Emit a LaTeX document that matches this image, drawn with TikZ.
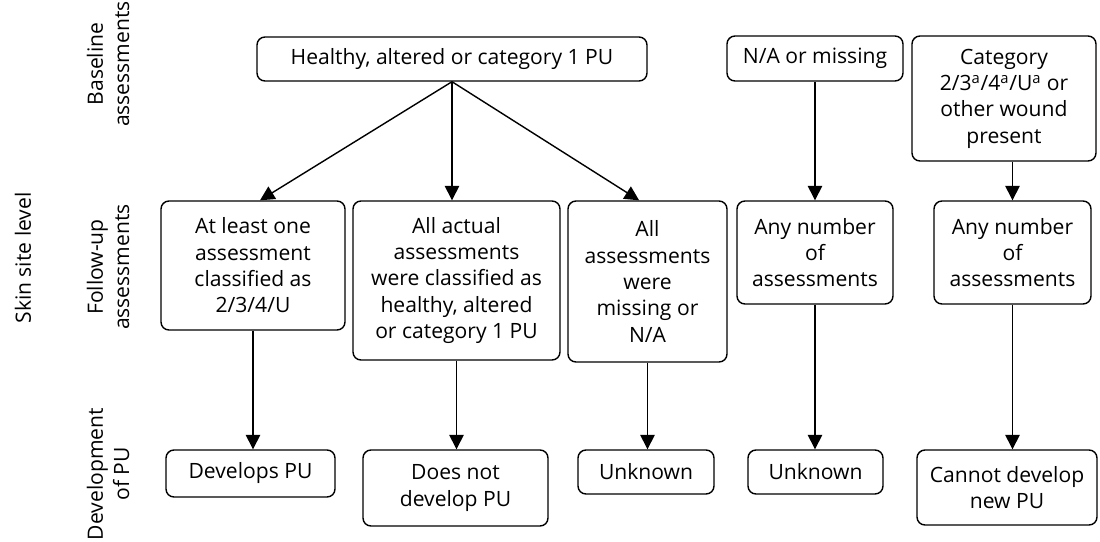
\documentclass[tikz,border=0pt]{standalone}
\usepackage{fontspec}
\setmainfont{Open Sans}
\usetikzlibrary{arrows.meta}
\tikzset{
  stagebox/.style 2 args={draw, rounded corners=2mm, align=center, inner sep=0pt,
    minimum width=#1*0.025cm, minimum height=#2*0.025cm, font=\fontsize{15}{18.7}\selectfont},
  rowlabel/.style={rotate=90, align=center, font=\fontsize{15}{18.7}\selectfont},
}
\begin{document}
\begin{tikzpicture}[x=0.025cm, y=-0.025cm, line width=1pt, line join=round, >={Triangle[length=3.6mm,width=3.6mm]}]
\useasboundingbox (0,0) rectangle (1100,541);
%Row labels
\node[rowlabel] (skin) at (23,258) {Skin site level};
\node[rowlabel] (lblbase) at (108,64) {Baseline\\assessments};
\node[rowlabel] (lblfollow) at (108,267) {Follow-up\\assessments};
\node[rowlabel] (lbldev) at (108,474) {Development\\of PU};
%Baseline assessments
\node[stagebox={390}{44}] (base1) at (452,59) {Healthy, altered or category 1 PU};
\node[stagebox={176}{45}] (base2) at (815,58.5) {N/A or missing};
\node[stagebox={184}{125}] (base3) at (1004,98.5) {Category\\2/3\textsuperscript{a}/4\textsuperscript{a}/U\textsuperscript{a} or\\other wound\\present};
%Follow-up assessments
\node[stagebox={184}{129}] (fu1) at (253,265.5) {At least one\\assessment\\classified as\\2/3/4/U};
\node[stagebox={207}{159}] (fu2) at (456.5,280.5) {All actual\\assessments\\were classified as\\healthy, altered\\or category 1 PU};
\node[stagebox={159}{161}] (fu3) at (647.5,281.5) {All\\assessments\\were\\missing or\\N/A};
\node[stagebox={156}{103}] (fu4) at (815,252.5) {Any number\\of\\assessments};
\node[stagebox={157}{103}] (fu5) at (1012.5,252.5) {Any number\\of\\assessments};
%Development of PU
\node[stagebox={169}{47}] (dev1) at (250.5,473.5) {Develops PU};
\node[stagebox={185}{76}] (dev2) at (455.5,488) {Does not\\develop PU};
\node[stagebox={136}{44}] (dev3) at (646,472) {Unknown};
\node[stagebox={135}{44}] (dev4) at (815.5,472) {Unknown};
\node[stagebox={180}{75}] (dev5) at (1007,487.5) {Cannot develop\\new PU};
%Arrows
\draw[->] (base1.south) -- ([xshift=0.175cm]fu1.north);
\draw[->] (base1.south) -- (base1.south |- fu2.north);
\draw[->] (base1.south) -- ([xshift=-0.21cm]fu3.north);
\draw[->] (base2.south) -- (fu4.north);
\draw[->] (base3.south -| fu5.north) -- (fu5.north);
\draw[->] (fu1.south) -- (fu1.south |- dev1.north);
\draw[->] (fu2.south) -- (fu2.south |- dev2.north);
\draw[->] (fu3.south) -- (fu3.south |- dev3.north);
\draw[->] (fu4.south) -- (fu4.south |- dev4.north);
\draw[->] (fu5.south) -- (fu5.south |- dev5.north);
\end{tikzpicture}
\end{document}
